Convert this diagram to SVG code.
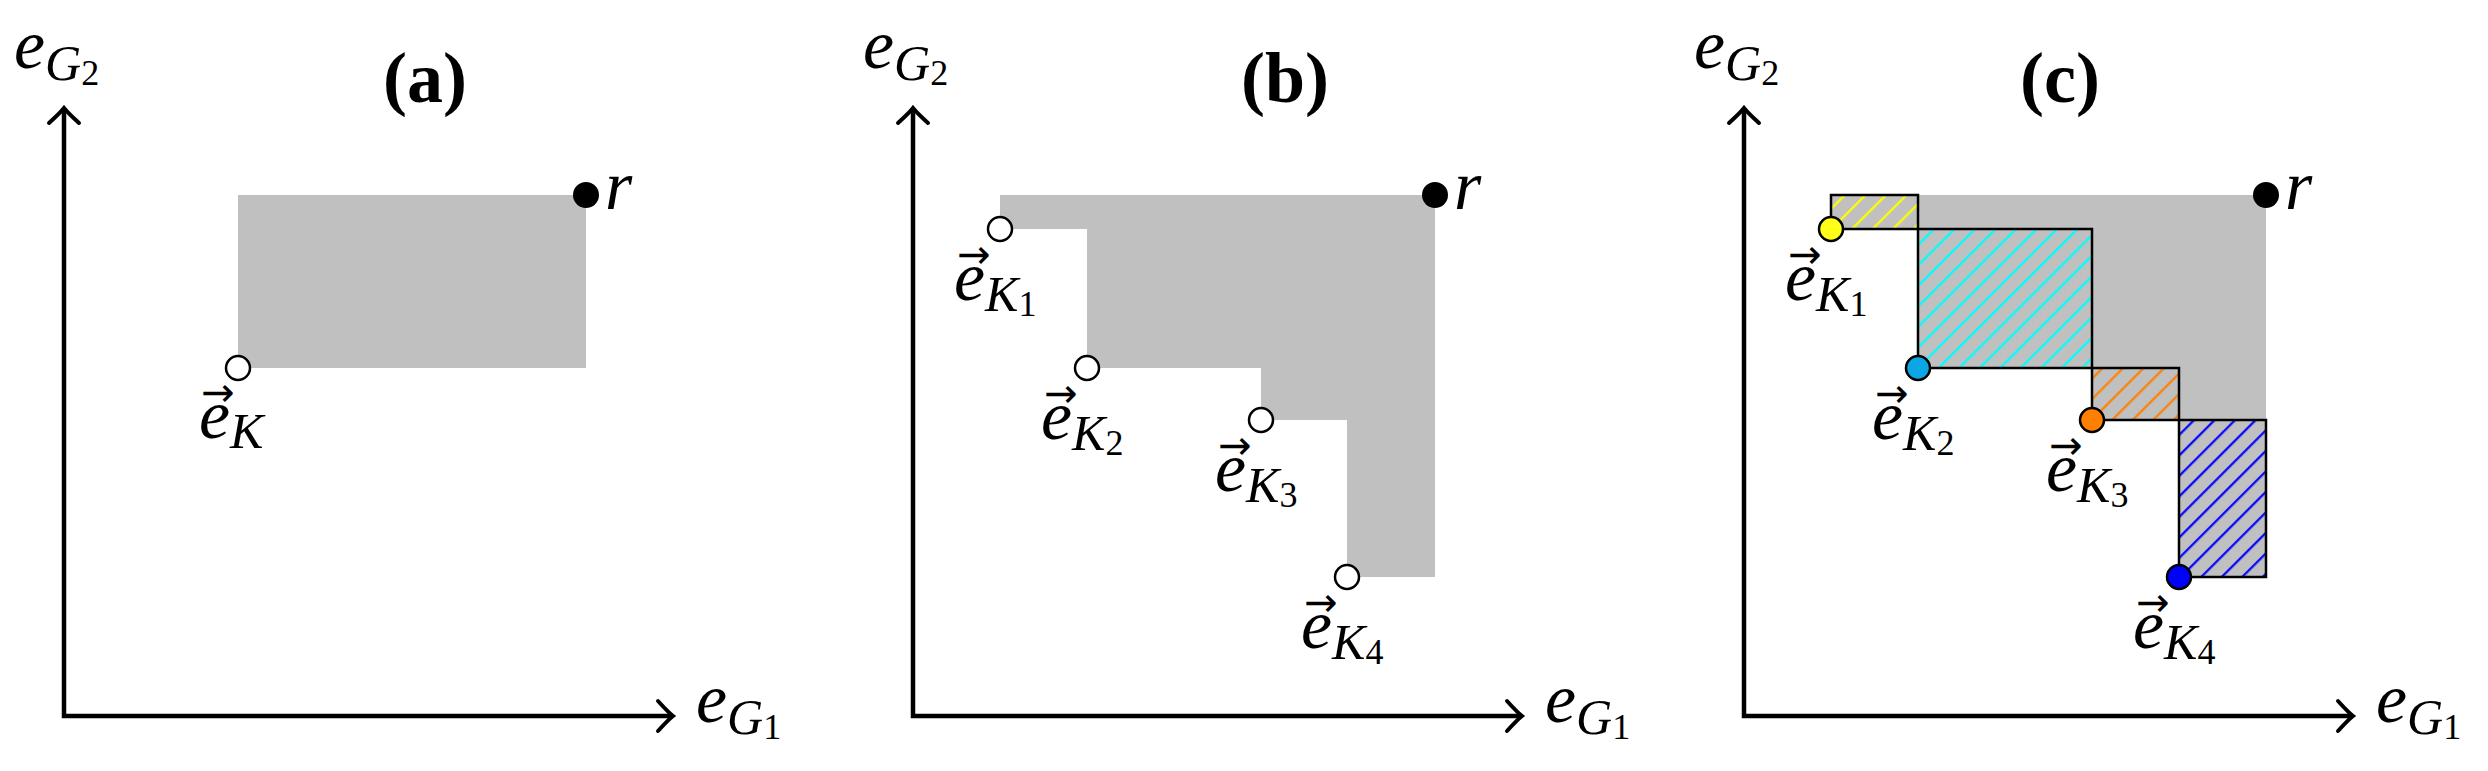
<svg xmlns="http://www.w3.org/2000/svg" width="2488" height="771" viewBox="0 0 2488 771">
<style>
.ax{fill:none;stroke:#000;stroke-width:4.5;marker-start:url(#arr);marker-end:url(#arr)}
.m{font-family:"Liberation Serif","DejaVu Serif","Times New Roman",serif;font-style:italic;font-size:70px;fill:#000}
.sub{font-size:50px}
.ss{font-size:36px;font-style:normal}
.vec{font-family:"DejaVu Sans",sans-serif;font-size:40px;fill:#000;text-anchor:middle}
.ttl{font-family:"Liberation Serif","DejaVu Serif","Times New Roman",serif;font-weight:bold;font-size:72px;text-anchor:middle;fill:#000}
.gray{fill:#c0c0c0}
.pt{fill:#fff;stroke:#000;stroke-width:2.5}
.rp{fill:#000}
.hb{stroke:#000;stroke-width:2.5}
</style>
<defs>
<marker id="arr" markerUnits="userSpaceOnUse" orient="auto-start-reverse" overflow="visible" refX="0" refY="0" markerWidth="1" markerHeight="1">
<path d="M-15,-15 Q-5,-4 0,0 Q-5,4 -15,15" fill="none" stroke="#000" stroke-width="4" stroke-linecap="round"/>
</marker>
<pattern id="hY" width="14.5" height="14.5" patternUnits="userSpaceOnUse" patternTransform="rotate(45)"><rect width="14.5" height="14.5" fill="#c0c0c0"/><line x1="7" y1="0" x2="7" y2="14.5" stroke="#ffff00" stroke-width="2.2"/></pattern>
<pattern id="hC" width="14.5" height="14.5" patternUnits="userSpaceOnUse" patternTransform="rotate(45)"><rect width="14.5" height="14.5" fill="#c0c0c0"/><line x1="7" y1="0" x2="7" y2="14.5" stroke="#00ffff" stroke-width="2.2"/></pattern>
<pattern id="hO" width="14.5" height="14.5" patternUnits="userSpaceOnUse" patternTransform="rotate(45)"><rect width="14.5" height="14.5" fill="#c0c0c0"/><line x1="7" y1="0" x2="7" y2="14.5" stroke="#ff8000" stroke-width="2.2"/></pattern>
<pattern id="hB" width="14.5" height="14.5" patternUnits="userSpaceOnUse" patternTransform="rotate(45)"><rect width="14.5" height="14.5" fill="#c0c0c0"/><line x1="7" y1="0" x2="7" y2="14.5" stroke="#0000ff" stroke-width="2.2"/></pattern>
</defs>

<!-- Panel (a) -->
<g id="panel-a">
<text class="ttl" x="425" y="102">(a)</text>
<g id="a-axes"><path class="ax" d="M64,108 V716 H673"/></g>
<text class="m" x="14" y="68">e<tspan class="sub" dy="12">G</tspan><tspan class="ss" dy="5">2</tspan></text>
<text class="m" x="696" y="722">e<tspan class="sub" dy="12">G</tspan><tspan class="ss" dy="5">1</tspan></text>
<rect id="a-region" class="gray" x="238" y="195" width="348" height="173"/>
<g id="a-eK"><circle class="pt" cx="238" cy="368" r="12"/>
<text class="vec" x="218" y="406">→</text>
<text class="m" x="199" y="438">e<tspan class="sub" dy="10">K</tspan></text></g>
<g id="a-r"><circle class="rp" cx="586" cy="195" r="13"/><text class="m" x="605" y="209">r</text></g>
</g>

<!-- Panel (b) -->
<g id="panel-b">
<text class="ttl" x="1285" y="102">(b)</text>
<g id="b-axes"><path class="ax" d="M913,108 V716 H1522"/></g>
<text class="m" x="863" y="68">e<tspan class="sub" dy="12">G</tspan><tspan class="ss" dy="5">2</tspan></text>
<text class="m" x="1545" y="722">e<tspan class="sub" dy="12">G</tspan><tspan class="ss" dy="5">1</tspan></text>
<path id="b-region" class="gray" d="M1000,195 H1435 V577 H1347 V420 H1261 V368 H1087 V229 H1000 Z"/>
<g id="b-eK1"><circle class="pt" cx="1000" cy="229" r="12"/><text class="vec" x="974" y="268">→</text><text class="m" x="954" y="300">e<tspan class="sub" dy="11">K</tspan><tspan class="ss" dy="5">1</tspan></text></g>
<g id="b-eK2"><circle class="pt" cx="1087" cy="368" r="12"/><text class="vec" x="1061" y="407">→</text><text class="m" x="1041" y="439">e<tspan class="sub" dy="11">K</tspan><tspan class="ss" dy="5">2</tspan></text></g>
<g id="b-eK3"><circle class="pt" cx="1261" cy="420" r="12"/><text class="vec" x="1235" y="459">→</text><text class="m" x="1215" y="491">e<tspan class="sub" dy="11">K</tspan><tspan class="ss" dy="5">3</tspan></text></g>
<g id="b-eK4"><circle class="pt" cx="1347" cy="577" r="12"/><text class="vec" x="1321" y="616">→</text><text class="m" x="1301" y="648">e<tspan class="sub" dy="11">K</tspan><tspan class="ss" dy="5">4</tspan></text></g>
<g id="b-r"><circle class="rp" cx="1435" cy="195" r="13"/><text class="m" x="1454" y="209">r</text></g>
</g>

<!-- Panel (c) -->
<g id="panel-c">
<text class="ttl" x="2060" y="102">(c)</text>
<g id="c-axes"><path class="ax" d="M1744,108 V716 H2353"/></g>
<text class="m" x="1694" y="68">e<tspan class="sub" dy="12">G</tspan><tspan class="ss" dy="5">2</tspan></text>
<text class="m" x="2376" y="722">e<tspan class="sub" dy="12">G</tspan><tspan class="ss" dy="5">1</tspan></text>
<path id="c-region" class="gray" d="M1831,195 H2266 V577 H2179 V420 H2092 V368 H1918 V229 H1831 Z"/>
<rect id="c-hatch1" class="hb" x="1831" y="195" width="87" height="34" fill="url(#hY)"/>
<rect id="c-hatch2" class="hb" x="1918" y="229" width="174" height="139" fill="url(#hC)"/>
<rect id="c-hatch3" class="hb" x="2092" y="368" width="87" height="52" fill="url(#hO)"/>
<rect id="c-hatch4" class="hb" x="2179" y="420" width="87" height="157" fill="url(#hB)"/>
<g id="c-eK1"><circle class="pt" style="fill:#ffff1a" cx="1831" cy="229" r="12"/><text class="vec" x="1805" y="268">→</text><text class="m" x="1785" y="300">e<tspan class="sub" dy="11">K</tspan><tspan class="ss" dy="5">1</tspan></text></g>
<g id="c-eK2"><circle class="pt" style="fill:#0aa6e6" cx="1918" cy="368" r="12"/><text class="vec" x="1892" y="407">→</text><text class="m" x="1872" y="439">e<tspan class="sub" dy="11">K</tspan><tspan class="ss" dy="5">2</tspan></text></g>
<g id="c-eK3"><circle class="pt" style="fill:#ff7f00" cx="2092" cy="420" r="12"/><text class="vec" x="2066" y="459">→</text><text class="m" x="2046" y="491">e<tspan class="sub" dy="11">K</tspan><tspan class="ss" dy="5">3</tspan></text></g>
<g id="c-eK4"><circle class="pt" style="fill:#0000ff" cx="2179" cy="577" r="12"/><text class="vec" x="2153" y="616">→</text><text class="m" x="2133" y="648">e<tspan class="sub" dy="11">K</tspan><tspan class="ss" dy="5">4</tspan></text></g>
<g id="c-r"><circle class="rp" cx="2266" cy="195" r="13"/><text class="m" x="2285" y="209">r</text></g>
</g>
</svg>
